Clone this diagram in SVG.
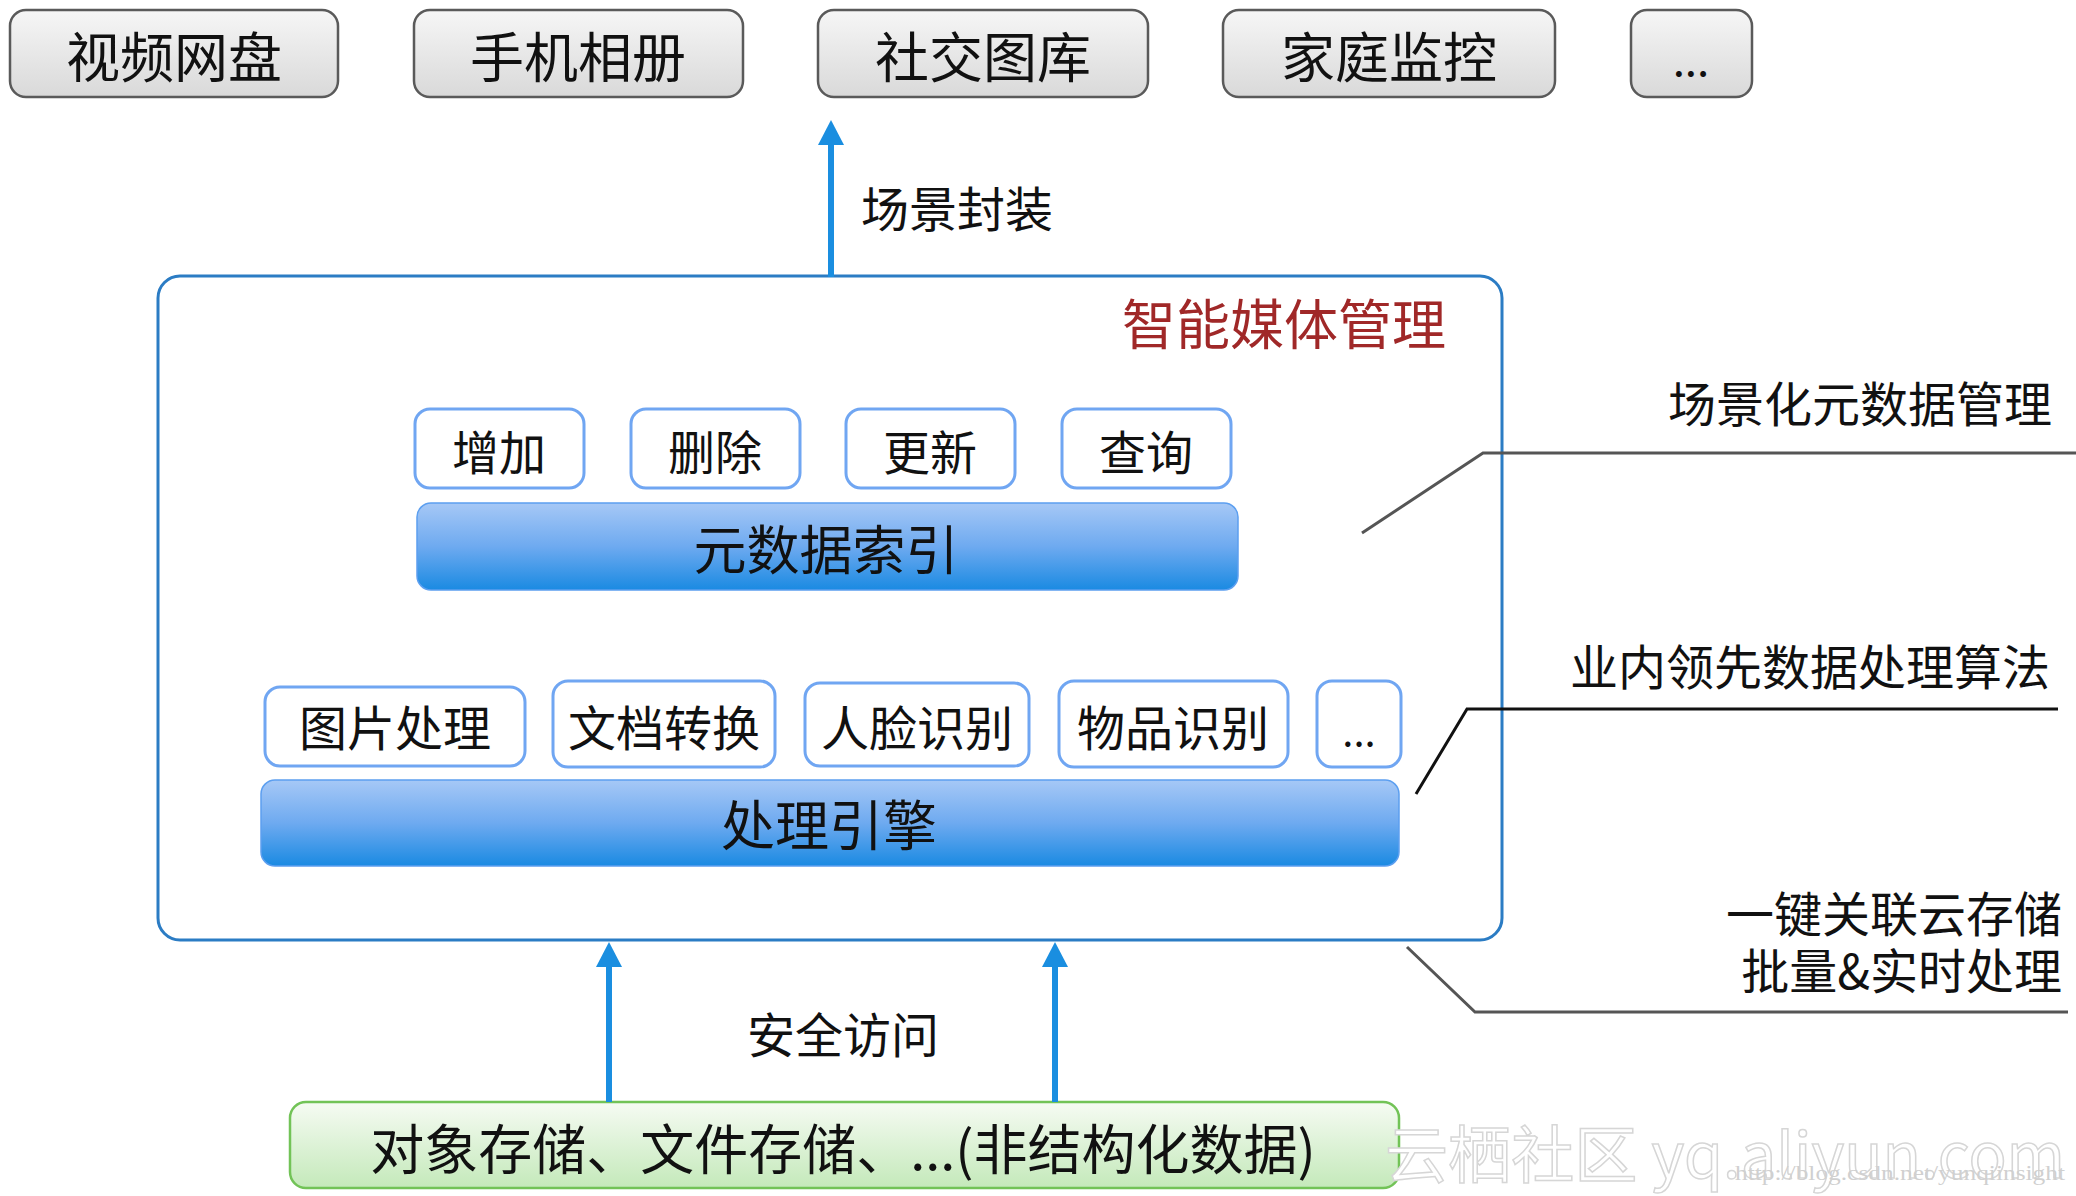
<svg xmlns="http://www.w3.org/2000/svg" width="2076" height="1196" viewBox="0 0 2076 1196">
<defs>
<linearGradient id="gGray" x1="0" y1="0" x2="0" y2="1">
<stop offset="0" stop-color="#f6f6f6"/><stop offset="1" stop-color="#d9d9d9"/>
</linearGradient>
<linearGradient id="gBlue" x1="0" y1="0" x2="0" y2="1">
<stop offset="0" stop-color="#a6c8f6"/><stop offset="0.5" stop-color="#6eaaf0"/><stop offset="1" stop-color="#1a8ae2"/>
</linearGradient>
<linearGradient id="gGreen" x1="0" y1="0" x2="0" y2="1">
<stop offset="0" stop-color="#f6fbf3"/><stop offset="1" stop-color="#c4e9ba"/>
</linearGradient>
<marker id="ah" markerUnits="userSpaceOnUse" markerWidth="26" markerHeight="26" viewBox="0 0 26 26" refX="0" refY="13" orient="auto">
<path d="M0,0 L25,13 L0,26 z" fill="#1a8ee0"/>
</marker>
<style>
.t{font-family:"Noto Sans CJK SC","Noto Sans",sans-serif;fill:#111;}
.app{fill:url(#gGray);stroke:#5a5a5a;stroke-width:2.5;}
.op{fill:#fff;stroke:#70a6f2;stroke-width:3;}
.bar{fill:url(#gBlue);stroke:#5c9ff0;stroke-width:1.5;}
.arr{stroke:#1a8ee0;stroke-width:6;fill:none;}
</style>
</defs>
<rect width="2076" height="1196" fill="#fff"/>

<g id="app-video"><rect class="app" x="10" y="10" width="328" height="87" rx="16"/><text class="t" x="174" y="78" font-size="54" text-anchor="middle">视频网盘</text></g>
<g id="app-album"><rect class="app" x="414" y="10" width="329" height="87" rx="16"/><text class="t" x="578" y="78" font-size="54" text-anchor="middle">手机相册</text></g>
<g id="app-social"><rect class="app" x="818" y="10" width="330" height="87" rx="16"/><text class="t" x="983" y="78" font-size="54" text-anchor="middle">社交图库</text></g>
<g id="app-home"><rect class="app" x="1223" y="10" width="332" height="87" rx="16"/><text class="t" x="1389" y="78" font-size="54" text-anchor="middle">家庭监控</text></g>
<g id="app-more"><rect class="app" x="1631" y="10" width="121" height="87" rx="16"/><text class="t" x="1691" y="76" font-size="44" text-anchor="middle">...</text></g>

<g id="imm">
<rect x="158" y="276" width="1344" height="664" rx="22" fill="#fff" stroke="#2b7cc4" stroke-width="3"/>
<text x="1122" y="345" font-size="54" font-family="Noto Sans CJK SC, sans-serif" fill="#a02828">智能媒体管理</text>
</g>

<g id="op-add"><rect class="op" x="415" y="409" width="169" height="79" rx="15"/><text class="t" x="499" y="470" font-size="47" text-anchor="middle">增加</text></g>
<g id="op-del"><rect class="op" x="631" y="409" width="169" height="79" rx="15"/><text class="t" x="715" y="470" font-size="47" text-anchor="middle">删除</text></g>
<g id="op-upd"><rect class="op" x="846" y="409" width="169" height="79" rx="15"/><text class="t" x="930" y="470" font-size="47" text-anchor="middle">更新</text></g>
<g id="op-query"><rect class="op" x="1062" y="409" width="169" height="79" rx="15"/><text class="t" x="1146" y="470" font-size="47" text-anchor="middle">查询</text></g>

<g id="meta-index"><rect class="bar" x="417" y="503" width="821" height="87" rx="14"/><text class="t" x="826" y="570" font-size="53" text-anchor="middle">元数据索引</text></g>

<g id="p-image"><rect class="op" x="265" y="687" width="260" height="79" rx="15"/><text class="t" x="395" y="746" font-size="48" text-anchor="middle">图片处理</text></g>
<g id="p-doc"><rect class="op" x="553" y="681" width="222" height="86" rx="15"/><text class="t" x="664" y="746" font-size="48" text-anchor="middle">文档转换</text></g>
<g id="p-face"><rect class="op" x="805" y="683" width="224" height="83" rx="15"/><text class="t" x="917" y="746" font-size="48" text-anchor="middle">人脸识别</text></g>
<g id="p-object"><rect class="op" x="1059" y="681" width="229" height="86" rx="15"/><text class="t" x="1173" y="746" font-size="48" text-anchor="middle">物品识别</text></g>
<g id="p-more"><rect class="op" x="1317" y="681" width="84" height="86" rx="15"/><text class="t" x="1359" y="746" font-size="40" text-anchor="middle">...</text></g>

<g id="engine"><rect class="bar" x="261" y="780" width="1138" height="86" rx="14"/><text class="t" x="829" y="846" font-size="54" text-anchor="middle">处理引擎</text></g>

<g id="storage"><rect x="290" y="1102" width="1109" height="86" rx="16" fill="url(#gGreen)" stroke="#72c357" stroke-width="2.5"/><text class="t" x="843" y="1170" font-size="54" text-anchor="middle">对象存储、文件存储、...(非结构化数据)</text></g>

<g id="connectors">
<line class="arr" x1="831" y1="277" x2="831" y2="145" marker-end="url(#ah)"/>
<line class="arr" x1="609" y1="1102" x2="609" y2="967" marker-end="url(#ah)"/>
<line class="arr" x1="1055" y1="1102" x2="1055" y2="967" marker-end="url(#ah)"/>
<polyline points="1362,533 1483,453 2076,453" fill="none" stroke="#555" stroke-width="3"/>
<polyline points="1416,794 1467,709 2058,709" fill="none" stroke="#111" stroke-width="3"/>
<polyline points="1407,947 1475,1012 2068,1012" fill="none" stroke="#555" stroke-width="3"/>
</g>

<g id="labels">
<text class="t" x="861" y="227" font-size="48">场景封装</text>
<text class="t" x="747" y="1053" font-size="48">安全访问</text>
<text class="t" x="2052" y="422" font-size="48" text-anchor="end">场景化元数据管理</text>
<text class="t" x="2050" y="685" font-size="48" text-anchor="end">业内领先数据处理算法</text>
<text class="t" x="2062" y="932" font-size="48" text-anchor="end">一键关联云存储</text>
<text class="t" x="2062" y="989" font-size="48" text-anchor="end">批量&amp;实时处理</text>
</g>

<g id="watermark">
<text x="1385" y="1178" font-size="62" font-family="Noto Sans CJK SC, sans-serif" fill="#fff" stroke="#d6d6d6" stroke-width="1.5" textLength="680" lengthAdjust="spacingAndGlyphs">云栖社区 yq.aliyun.com</text>
<text x="1735" y="1180" font-size="20" font-family="Liberation Serif, serif" fill="#d0d0d0" textLength="330" lengthAdjust="spacingAndGlyphs">http://blog.csdn.net/yunqiinsight</text>
</g>
</svg>
